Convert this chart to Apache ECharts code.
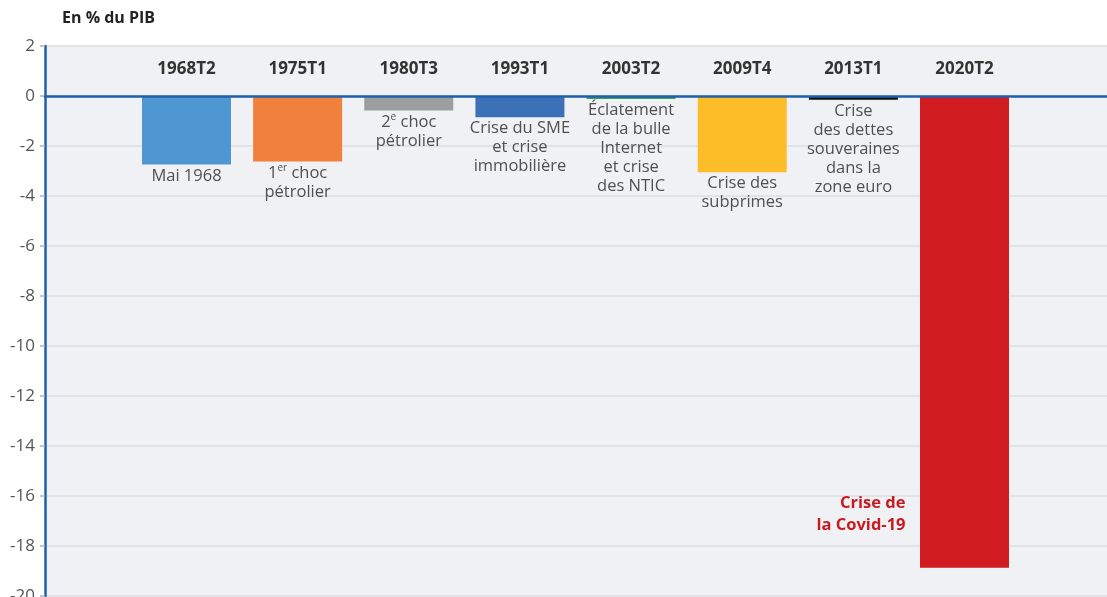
<!DOCTYPE html>
<html>
<head>
<meta charset="utf-8">
<script src="https://cdn.jsdelivr.net/npm/echarts@6/dist/echarts.min.js"></script>
<style>
  html, body { margin: 0; padding: 0; background: #fff; }
  #chart { width: 1107px; height: 597px; }
</style>
</head>
<body>
<div id="chart"></div>
<script>
  // trimestres de crise
  const categories = ['1968T2', '1975T1', '1980T3', '1993T1', '2003T2', '2009T4', '2013T1', '2020T2'];
  // variation du PIB, en %
  const values = [-2.74, -2.62, -0.58, -0.85, -0.12, -3.05, -0.15, -18.87];
  const events = [
    'Mai 1968',
    '1er choc\npétrolier',
    '2e choc\npétrolier',
    'Crise du SME\net crise\nimmobilière',
    'Éclatement\nde la bulle\nInternet\net crise\ndes NTIC',
    'Crise des\nsubprimes',
    'Crise\ndes dettes\nsouveraines\ndans la\nzone euro',
    'Crise de\nla Covid-19'
  ];
  const colors = ['#4f97d3', '#f0803c', '#9c9d9f', '#3c71b8', '#3aa35a', '#fdbd28', '#111111', '#d01b20'];
  const yTicks = { min: -20, max: 2, interval: 2 };

  const font = "'Open Sans', 'Noto Sans', sans-serif";
  const last = categories.length - 1;

  const chart = echarts.init(document.getElementById('chart'));

  const option = {
    animation: false,
    title: {
      text: 'En % du PIB',
      left: 57,
      top: 5,
      textStyle: { fontFamily: font, fontSize: 16, fontWeight: 'bold', color: '#222' }
    },
    grid: {
      left: 45, right: 0, top: 46, bottom: 1,
      containLabel: false, outerBoundsMode: 'none',
      show: true, backgroundColor: '#f0f1f4', borderWidth: 0
    },
    xAxis: {
      type: 'value',
      min: -1.273,
      max: 8.282,
      z: 10,
      axisLine: { show: true, onZero: true, lineStyle: { color: '#1f5fad', width: 2.5 } },
      axisTick: { show: false },
      axisLabel: { show: false },
      splitLine: { show: false }
    },
    yAxis: {
      type: 'value',
      min: yTicks.min,
      max: yTicks.max,
      interval: yTicks.interval,
      axisLine: { show: true, onZero: false, lineStyle: { color: '#1f5fad', width: 2.5 } },
      axisTick: { show: true, length: 5, lineStyle: { color: '#b0b3b8', width: 1.5 } },
      axisLabel: { color: '#555', fontFamily: font, fontSize: 17, margin: 10 },
      splitLine: { show: true, lineStyle: { color: '#dcdde0', width: 1.5 } }
    },
    series: [
      {
        type: 'bar',
        barWidth: 89,
        data: values.map((v, i) => ({ value: [i, v], itemStyle: { color: colors[i] } }))
      },
      {
        // noms des trimestres en haut
        type: 'scatter',
        symbolSize: 0,
        silent: true,
        z: 5,
        itemStyle: { opacity: 1 },
        data: categories.map((c, i) => [i, 1.08]),
        label: {
          show: true,
          position: 'inside',
          formatter: p => categories[p.dataIndex],
          fontFamily: font, fontSize: 17, fontWeight: 'bold', color: '#333'
        }
      },
      {
        // libellés sous les barres
        type: 'scatter',
        symbolSize: 0,
        silent: true,
        z: 5,
        itemStyle: { opacity: 1 },
        data: values.slice(0, last).map((v, i) => [i, v]),
        label: {
          show: true,
          position: 'bottom',
          distance: 2,
          align: 'center',
          formatter: p => events[p.dataIndex].replace(/^(\d)(er|e) /, '{n|$1}{sup|$2} '),
          fontFamily: font, fontSize: 16.5, lineHeight: 19, color: '#505050',
          rich: {
            n: { fontFamily: font, fontSize: 16.5, lineHeight: 19, color: '#505050' },
            sup: { fontFamily: font, fontSize: 10, lineHeight: 19, color: '#505050', verticalAlign: 'top', padding: [0, 0, 6, 0] }
          }
        }
      },
      {
        // crise de la Covid-19
        type: 'scatter',
        symbolSize: 0,
        silent: true,
        z: 5,
        itemStyle: { opacity: 1 },
        data: [[last, -16.75]],
        label: {
          show: true,
          position: 'left',
          distance: 59,
          align: 'right',
          formatter: () => events[last],
          fontFamily: font, fontSize: 16.5, fontWeight: 'bold', lineHeight: 22, color: '#c81b20'
        }
      }
    ]
  };

  chart.setOption(option);
</script>
</body>
</html>
